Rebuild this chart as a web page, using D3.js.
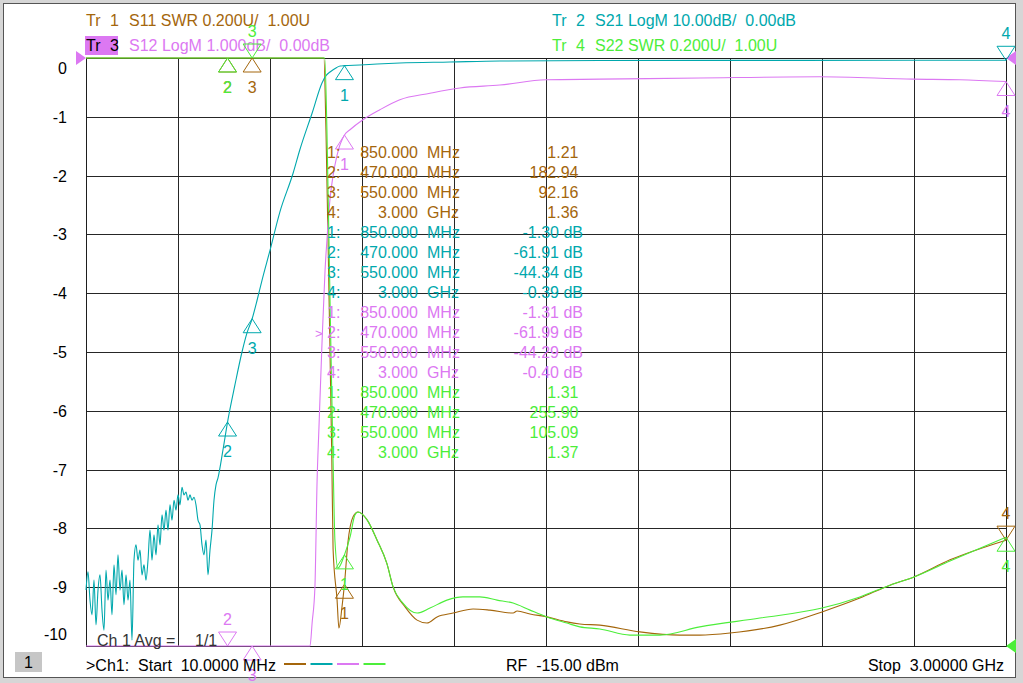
<!DOCTYPE html>
<html>
<head>
<meta charset="utf-8">
<script src="https://cdn.jsdelivr.net/npm/d3@7"></script>
<style>
  html, body { margin: 0; padding: 0; background: #d6d6d6; }
  svg { display: block; font-family: "Liberation Sans", Arial, sans-serif; }
  text { white-space: pre; }
</style>
</head>
<body>
<svg id="chart" width="1023" height="683"></svg>
<script>
// sweep
const startMHz = 10;
const stopMHz = 3000;
const yTicks = [0, -1, -2, -3, -4, -5, -6, -7, -8, -9, -10];

// Tr 1  S11 SWR
const s11Freq = [10, 300, 470, 550, 700, 770, 783, 790, 800, 809, 813, 826, 832, 842, 850, 861, 878, 894, 923, 956, 988, 1008, 1047, 1086, 1118, 1151, 1203, 1268, 1323, 1398, 1411, 1453, 1508, 1573, 1615, 1680, 1810, 1940, 2005, 2103, 2265, 2402, 2525, 2623, 2701, 2818, 3000];
const s11Swr = [400, 300, 182.94, 92.16, 30, 8, 3.0, 2.75, 2.18, 1.63, 1.33, 1.156, 1.061, 1.133, 1.21, 1.35, 1.44, 1.456, 1.43, 1.36, 1.28, 1.201, 1.133, 1.088, 1.078, 1.099, 1.112, 1.126, 1.122, 1.112, 1.119, 1.109, 1.099, 1.082, 1.075, 1.071, 1.048, 1.037, 1.037, 1.044, 1.071, 1.116, 1.163, 1.207, 1.235, 1.293, 1.36];

// Tr 2  S21 LogM (noisy floor, then passband edge)
const s21Freq = [10, 16.5, 23, 29.5, 36, 42.5, 49, 55.5, 62, 68.5, 75, 81.5, 88, 94.5, 101, 107.5, 114, 120.5, 127, 133.5,
  140, 146.5, 153, 159.5, 166, 172.5, 179, 185.5, 192, 198.5, 205, 211.5, 218, 224.5, 231, 237.5, 244, 250.5, 257, 263.5,
  270, 276.5, 283, 289.5, 296, 302.5, 309, 315.5, 322, 328.5, 335, 341.5, 348, 354.5, 361, 367.5, 374, 380.5, 387, 393.5,
  400, 406.5, 413, 419.5, 426, 432.5, 439,
  455, 470, 494, 517, 533, 550, 566, 582, 608, 640, 683, 705, 745, 777, 790, 803, 825, 836, 850, 900, 956, 1030, 1193, 1355, 1680, 2330, 3000];
const s21Db = [-90.5, -87.4, -92.2, -94.7, -88.8, -96.4, -90.5, -87.9, -93.9, -97.3, -87.1, -92.2, -88.8, -94.7, -86.2, -91.3, -84.5, -90.5, -87.1, -93.0,
  -87.9, -92.2, -88.8, -99.0, -85.4, -82.8, -85.4, -83.7, -87.9, -86.2, -88.8, -85.4, -80.3, -85.4, -81.1, -84.5, -79.4, -82.8, -77.7, -80.3,
  -76.9, -80.3, -76.0, -78.6, -75.2, -76.9, -74.3, -76.0, -73.0, -74.3, -73.8, -75.2, -74.3, -75.2, -74.7, -76.0, -78.6, -79.4, -82.8, -84.5,
  -82.0, -87.9, -83.7, -80.3, -75.2, -72.6, -71.4,
  -66.7, -61.91, -55.6, -50.0, -46.8, -44.34, -41.2, -37.8, -32.7, -26.2, -19.6, -15.6, -9.35, -4.25, -3.0, -2.38, -1.6, -1.36, -1.30, -1.19, -1.02, -0.85, -0.68, -0.51, -0.43, -0.40, -0.39];

// Tr 3  S12 LogM
const s12Freq = [10, 200, 400, 470, 550, 650, 720, 738, 745, 754, 761, 767, 777, 787, 793, 803, 813, 826, 850, 868, 910, 965, 1030, 1128, 1225, 1355, 1505, 1680, 2005, 2395, 2700, 2850, 3000];
const s12Db = [-92, -80, -68, -61.99, -44.29, -28, -14, -10.0, -9.6, -9.0, -7.2, -6.3, -4.85, -3.6, -3.1, -2.4, -2.0, -1.65, -1.31, -1.22, -1.05, -0.88, -0.71, -0.60, -0.51, -0.46, -0.37, -0.36, -0.34, -0.32, -0.36, -0.37, -0.40];

// Tr 4  S22 SWR
const s22Freq = [10, 470, 550, 700, 775, 786, 793, 803, 813, 819, 829, 850, 868, 884, 894, 923, 956, 988, 1008, 1040, 1086, 1128, 1183, 1235, 1290, 1346, 1398, 1453, 1508, 1573, 1615, 1680, 1778, 1875, 2005, 2200, 2402, 2525, 2623, 2701, 2818, 3000];
const s22Swr = [500, 255.90, 105.09, 30, 8, 3.0, 2.755, 2.18, 1.63, 1.36, 1.265, 1.31, 1.37, 1.446, 1.456, 1.43, 1.36, 1.28, 1.201, 1.146, 1.112, 1.129, 1.156, 1.167, 1.167, 1.156, 1.146, 1.122, 1.099, 1.078, 1.065, 1.058, 1.037, 1.037, 1.065, 1.095, 1.129, 1.167, 1.207, 1.235, 1.289, 1.37];

// markers
const markerFreq = [850, 470, 550, 3000];
const markerFreqText = ["850.000", "470.000", "550.000", "3.000"];
const markerUnit = ["MHz", "MHz", "MHz", "GHz"];
const s11Markers = [1.21, 182.94, 92.16, 1.36];
const s21Markers = [-1.30, -61.91, -44.34, -0.39];
const s12Markers = [-1.31, -61.99, -44.29, -0.40];
const s22Markers = [1.31, 255.90, 105.09, 1.37];

const plot = { left: 86, right: 1006, top: 58, bottom: 646 };
const svg = d3.select("#chart");

const x = d3.scaleLinear().domain([startMHz, stopMHz]).range([plot.left, plot.right]).clamp(true);
const yDiv = d3.scaleLinear().domain([-10, 0]).range([plot.bottom, plot.top]);
const yS11 = d3.scaleLinear().domain([1, 3]).range([plot.bottom, plot.top]).clamp(true);
const yS21 = d3.scaleLinear().domain([-100, 0]).range([plot.bottom, plot.top]).clamp(true);
const yS12 = d3.scaleLinear().domain([-10, 0]).range([plot.bottom, plot.top]).clamp(true);
const yS22 = d3.scaleLinear().domain([1, 3]).range([plot.bottom, plot.top]).clamp(true);

const traces = [
  { label: "1", head: "S11 SWR 0.200U/  1.00U", color: "#a4660c", freq: s11Freq, val: s11Swr, y: yS11,
    markers: s11Markers, dirs: ["up", "up", "up", "down"], dB: false, hx: 86, hy: 26 },
  { label: "2", head: "S21 LogM 10.00dB/  0.00dB", color: "#00a8ad", freq: s21Freq, val: s21Db, y: yS21,
    markers: s21Markers, dirs: ["up", "up", "up", "down"], dB: true, hx: 552, hy: 26 },
  { label: "3", head: "S12 LogM 1.000dB/  0.00dB", color: "#dc78f2", freq: s12Freq, val: s12Db, y: yS12,
    markers: s12Markers, dirs: ["up", "down", "up", "up"], dB: true, hx: 86, hy: 51 },
  { label: "4", head: "S22 SWR 0.200U/  1.00U", color: "#4cee3a", freq: s22Freq, val: s22Swr, y: yS22,
    markers: s22Markers, dirs: ["up", "up", "down", "up"], dB: false, hx: 552, hy: 51 }
];

// window frame
svg.append("rect").attr("x", 3.5).attr("y", 3.5).attr("width", 1012).attr("height", 674)
  .attr("fill", "#ffffff").attr("stroke", "#555").attr("stroke-width", 1);

// grid
const xGrid = d3.range(11).map((i) => startMHz + (i * (stopMHz - startMHz)) / 10);
const gx = svg.append("g")
  .attr("transform", `translate(0,${plot.bottom})`)
  .call(d3.axisBottom(x).tickValues(xGrid).tickSize(-(plot.bottom - plot.top)).tickFormat(""));
gx.select(".domain").remove();
gx.selectAll("line").attr("stroke", "#262626").attr("shape-rendering", "crispEdges");

const gy = svg.append("g")
  .attr("transform", `translate(${plot.left},0)`)
  .call(d3.axisLeft(yDiv).tickValues(yTicks).tickSize(-(plot.right - plot.left)).tickPadding(19).tickFormat((d) => String(d)));
gy.select(".domain").remove();
gy.selectAll("line").attr("stroke", "#262626").attr("shape-rendering", "crispEdges");
gy.attr("font-family", null).attr("font-size", null);
gy.selectAll("text")
  .attr("font-size", 16).attr("fill", "#000")
  .attr("dy", (d) => (d === 0 ? "0.95em" : d === -10 ? "-0.42em" : "0.34em"));

svg.append("rect")
  .attr("x", plot.left + 0.5).attr("y", plot.top + 0.5)
  .attr("width", plot.right - plot.left).attr("height", plot.bottom - plot.top)
  .attr("fill", "none").attr("stroke", "#1e1e1e").attr("shape-rendering", "crispEdges");

// header
svg.append("rect").attr("x", 85).attr("y", 36).attr("width", 33).attr("height", 19).attr("fill", "#dc78f2");
const header = svg.append("g").attr("font-size", 16);
traces.forEach((t) => {
  header.append("text").attr("x", t.hx).attr("y", t.hy).attr("fill", t.label === "3" ? "#000" : t.color).text("Tr");
  header.append("text").attr("x", t.hx + 24).attr("y", t.hy).attr("fill", t.label === "3" ? "#000" : t.color).text(t.label);
  header.append("text").attr("x", t.hx + 43).attr("y", t.hy).attr("fill", t.color).text(t.head);
});

// reference arrows
svg.append("path")
  .attr("d", `M${plot.left - 10},${yS12(0) - 7}L${plot.left},${yS12(0)}L${plot.left - 10},${yS12(0) + 7}Z`)
  .attr("fill", "#dc78f2");
svg.append("path")
  .attr("d", `M${plot.right + 10},${yS12(0) - 7}L${plot.right},${yS12(0)}L${plot.right + 10},${yS12(0) + 7}Z`)
  .attr("fill", "#dc78f2");
svg.append("path")
  .attr("d", `M${plot.right + 10},${yS22(1) - 7}L${plot.right},${yS22(1)}L${plot.right + 10},${yS22(1) + 7}Z`)
  .attr("fill", "#4cee3a");

// traces
const traceGroup = svg.append("g");
traces.forEach((t) => {
  const line = d3.line().x((d) => x(d[0])).y((d) => t.y(d[1])).curve(d3.curveMonotoneX);
  traceGroup.append("path")
    .datum(d3.zip(t.freq, t.val))
    .attr("d", line)
    .attr("fill", "none")
    .attr("stroke", t.color)
    .attr("stroke-width", 1.1)
    .attr("stroke-linejoin", "round");
});

// markers
const markerGroup = svg.append("g").attr("font-size", 16).attr("text-anchor", "middle");
traces.forEach((t) => {
  t.markers.forEach((v, i) => {
    const mx = x(markerFreq[i]);
    const my = t.y(v);
    const s = t.dirs[i] === "up" ? 1 : -1;
    markerGroup.append("path")
      .attr("d", `M${mx},${my}L${mx - 9},${my + s * 14}L${mx + 9},${my + s * 14}Z`)
      .attr("fill", "none").attr("stroke", t.color).attr("stroke-width", 1);
    markerGroup.append("text")
      .attr("x", mx).attr("y", s > 0 ? my + 35 : my - 21)
      .attr("fill", t.color).text(i + 1);
  });
});

// marker table
const table = svg.append("g").attr("font-size", 16);
traces.forEach((t, ti) => {
  t.markers.forEach((v, i) => {
    const base = 158 + 20 * (ti * 4 + i);
    table.append("text").attr("x", 327).attr("y", base).attr("fill", t.color).text(`${i + 1}:`);
    table.append("text").attr("x", 418).attr("y", base).attr("text-anchor", "end").attr("fill", t.color).text(markerFreqText[i]);
    table.append("text").attr("x", 427).attr("y", base).attr("fill", t.color).text(markerUnit[i]);
    table.append("text").attr("x", t.dB ? 583 : 578.5).attr("y", base).attr("text-anchor", "end").attr("fill", t.color)
      .text(t.dB ? `${v.toFixed(2)} dB` : v.toFixed(2));
  });
});
table.append("text").attr("x", 315).attr("y", 158 + 20 * 9).attr("font-size", 13).attr("fill", "#dc78f2").text(">");

// averaging
svg.append("text").attr("x", 97).attr("y", 646).attr("font-size", 16).attr("fill", "#333").text("Ch 1 Avg =");
svg.append("text").attr("x", 195).attr("y", 646).attr("font-size", 16).attr("fill", "#333").text("1/1");

// footer
svg.append("rect").attr("x", 15).attr("y", 652).attr("width", 27).attr("height", 20).attr("fill", "#c6c6c6");
const footer = svg.append("g").attr("font-size", 16).attr("fill", "#000");
footer.append("text").attr("x", 28.5).attr("y", 668).attr("text-anchor", "middle").text("1");
footer.append("text").attr("x", 86).attr("y", 671).text(">Ch1:  Start  10.0000 MHz");
footer.append("text").attr("x", 506).attr("y", 671).text("RF  -15.00 dBm");
footer.append("text").attr("x", 1004).attr("y", 671).attr("text-anchor", "end").text("Stop  3.00000 GHz");
traces.forEach((t, i) => {
  svg.append("line")
    .attr("x1", 284 + i * 26.5).attr("x2", 306 + i * 26.5)
    .attr("y1", 664).attr("y2", 664)
    .attr("stroke", t.color).attr("stroke-width", 2);
});
</script>
</body>
</html>
